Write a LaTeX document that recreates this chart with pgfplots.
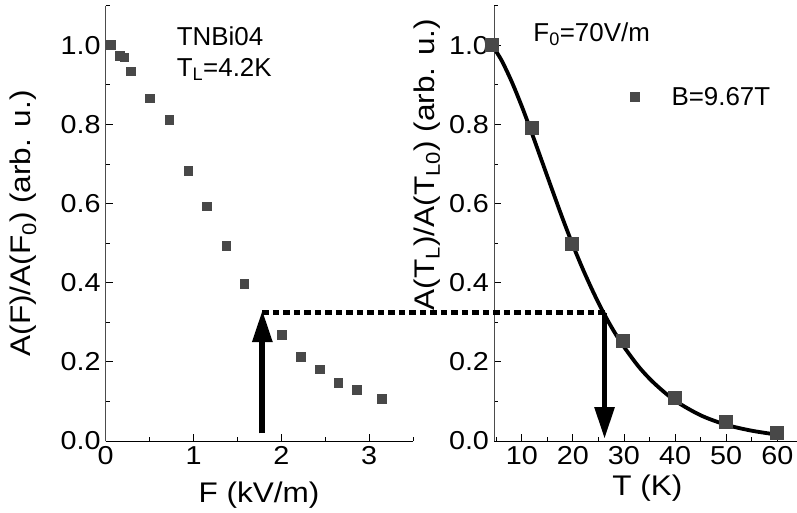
\documentclass[border=0pt]{standalone}
\usepackage{fontspec}
\setmainfont{Liberation Sans}
\newfontfamily\widefont{Liberation Sans}[FakeStretch=1.11]
\usepackage{pgfplots}
\pgfplotsset{compat=1.18}
\usetikzlibrary{arrows.meta}

\definecolor{pt}{RGB}{72,72,72}

\pgfplotsset{
  panel/.style={
    scale only axis, height=435.3bp, ymin=0, ymax=1.1,
    axis x line=bottom, axis y line=left,
    axis line style={-, line width=1bp},
    y axis line style={black!70},
    tick align=inside, major tick length=7bp, minor tick length=4bp,
    tick style={line width=0.8bp, black},
    ytick={0,0.2,0.4,0.6,0.8,1.0}, minor ytick={0.1,0.3,0.5,0.7,0.9,1.1},
    yticklabel style={xshift=-1.5bp, /pgf/number format/fixed, /pgf/number format/fixed zerofill, /pgf/number format/precision=1},
    xticklabel style={yshift=-2bp},
    /pgf/number format/assume math mode=true,
    tick label style={font=\widefont\fontsize{26}{26}\selectfont},
    label style={font=\widefont\fontsize{28.5}{28.5}\selectfont},
    clip=false,
  },
}

\begin{document}
\begin{tikzpicture}
\path[use as bounding box] (0,0) rectangle (797bp,513bp);

% left panel: amplitude vs field
\begin{axis}[panel, at={(105.7bp,72bp)}, anchor=south west, width=307.3bp,
  xmin=0, xmax=3.5, xtick={0,1,2,3}, minor xtick={0.5,1.5,2.5,3.5},
  xlabel={F (kV/m)}, ylabel={A(F)/A(F\textsubscript{0}) (arb. u.)},
  xlabel style={at={(axis description cs:0.499,-0.125)}, anchor=center},
  ylabel style={at={(axis description cs:-0.268,0.5)}, anchor=center}]
\addplot[only marks, mark=square*, mark size=4.3bp, color=pt, mark options={line width=0pt}] coordinates {
  (0.06,1.0) (0.163,0.973) (0.212,0.969) (0.285,0.934) (0.505,0.865)
  (0.725,0.811) (0.945,0.683) (1.157,0.593) (1.378,0.493) (1.579,0.397)
  (2.008,0.268) (2.224,0.213) (2.44,0.181) (2.65,0.147) (2.86,0.129) (3.15,0.106)
};
\draw[line width=5.8bp, -{Triangle[width=19bp,length=32bp]}] (axis cs:1.784,0.019) -- (axis cs:1.784,0.331);
\coordinate (dashL) at (axis cs:1.784,0.324);
\node[anchor=base west, font=\fontsize{26}{26}\selectfont] at (axis cs:0.77,1.0) {TNBi04};
\node[anchor=base west, font=\fontsize{26}{26}\selectfont] at (axis cs:0.77,0.92) {T\textsubscript{L}=4.2K};
\end{axis}

% right panel: amplitude vs temperature
\begin{axis}[panel, at={(494bp,72bp)}, anchor=south west, width=302.7bp,
  xmin=4.57, xmax=63.8, xtick={10,20,30,40,50,60}, minor xtick={5,15,25,35,45,55},
  xlabel={T (K)}, ylabel={A(T\textsubscript{L})/A(T\textsubscript{L0}) (arb. u.)},
  xlabel style={at={(axis description cs:0.507,-0.108)}, anchor=center},
  ylabel style={at={(axis description cs:-0.221,0.635)}, anchor=center},
  legend style={draw=none, fill=none, at={(axis description cs:0.44,0.79)}, anchor=west,
    font=\fontsize{26}{26}\selectfont}]
\addplot[no marks, line width=3.8bp, black, smooth, forget plot] coordinates {
  (4.2,1.0) (6,0.963) (8,0.909) (10,0.846) (12,0.777) (14,0.705) (16,0.633)
  (18,0.562) (20,0.495) (22,0.433) (24,0.376) (26,0.324) (28,0.278) (30,0.238)
  (33,0.186) (36,0.145) (40,0.102) (45,0.065) (50,0.041) (55,0.026) (60,0.016)
};
\addlegendimage{only marks, mark=square*, mark size=4.6bp, color=pt, mark options={line width=0pt}}
\addlegendentry{\hspace{30bp}B=9.67T}
\addplot[only marks, mark=square*, mark size=6.5bp, color=pt, mark options={line width=0pt}, forget plot] coordinates {
  (4.2,1.0) (12,0.79) (19.9,0.497) (29.9,0.253) (40,0.109) (50,0.047) (60,0.021)
};
\draw[line width=5.8bp, -{Triangle[width=19bp,length=32bp]}] (axis cs:26.2,0.324) -- (axis cs:26.2,0.005);
\coordinate (dashR) at (axis cs:26.3,0.324);
\node[anchor=base west, font=\fontsize{26}{26}\selectfont] at (axis cs:11.6,1.009) {F\textsubscript{0}=70V/m};
\end{axis}

\draw[line width=4.7bp, dash pattern=on 6.5bp off 4bp] (dashL) -- (dashR);
\end{tikzpicture}
\end{document}
